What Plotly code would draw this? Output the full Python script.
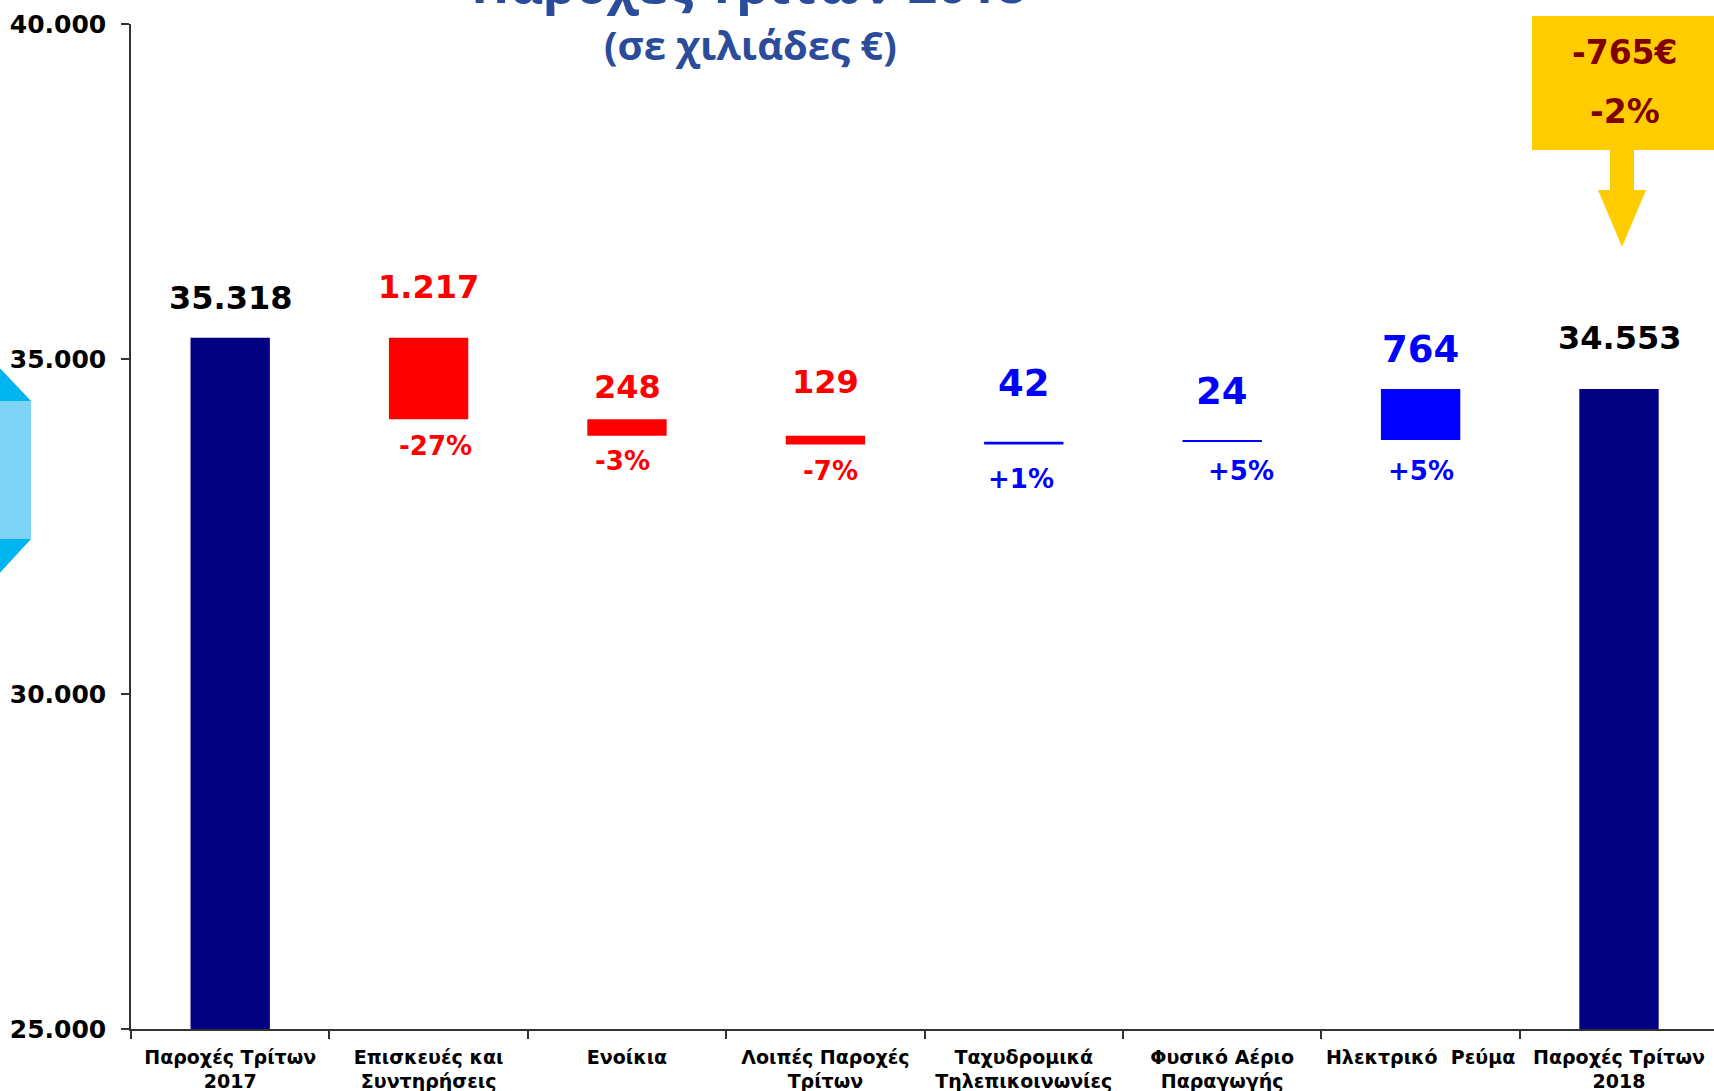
import plotly.graph_objects as go

# ---------------- data ----------------
categories = [
    "Παροχές Τρίτων<br>2017",
    "Επισκευές και<br>Συντηρήσεις",
    "Ενοίκια",
    "Λοιπές Παροχές<br>Τρίτων",
    "Ταχυδρομικά<br>Τηλεπικοινωνίες",
    "Φυσικό Αέριο<br>Παραγωγής",
    "Ηλεκτρικό  Ρεύμα",
    "Παροχές Τρίτων<br>2018",
]
values = [35318, -1217, -248, -129, 42, 24, 764, 34553]
measures = ["absolute", "relative", "relative", "relative",
            "relative", "relative", "relative", "absolute"]
pct_labels = ["-27%", "-3%", "-7%", "+1%", "+5%", "+5%"]
y_ticks = [25000, 30000, 35000, 40000]
title_lines = ["Παροχές Τρίτων 2018", "(σε χιλιάδες €)"]

# ---------------- style ----------------
NAVY, RED, BLUE = "#000080", "#FF0000", "#0000FF"
YELLOW, DARKRED = "#FFCC00", "#800000"
TITLE_BLUE = "#2B4C9A"
FONT = "DejaVu Sans"
W_FIG, H_FIG = 1714, 1091
L, T, R, B = 131, 24, 0, 62
PW, PH = W_FIG - L - R, H_FIG - T - B
top_label_shift = [40, 51, 32, 54, 58, 49, 39, 51]   # px above bar top
pct_label_shift = [27, 25, 27, 35, 29, 31]           # px below bar bottom
pct_label_dx = [7, -5, 5, -3, 19, 0]


def px_x(px):
    return (px - L) / PW


def px_y(py):
    return 1 - (py - T) / PH


def fmt(v):
    return f"{abs(v):,}".replace(",", ".")


# compute bar extents
tops, bottoms = [], []
running = 0
for v, m in zip(values, measures):
    if m == "absolute":
        running = v
        tops.append(v)
        bottoms.append(0)
    else:
        new = running + v
        tops.append(max(running, new))
        bottoms.append(min(running, new))
        running = new

fig = go.Figure()
fig.add_trace(go.Waterfall(
    x=categories,
    y=values,
    measure=measures,
    width=0.4,
    connector=dict(visible=False),
    increasing=dict(marker=dict(color=BLUE, line=dict(width=0))),
    decreasing=dict(marker=dict(color=RED, line=dict(width=0))),
    totals=dict(marker=dict(color=NAVY, line=dict(width=0))),
    hoverinfo="skip",
    showlegend=False,
))

annotations = []
# value labels above bars
for i, (cat, v, m) in enumerate(zip(categories, values, measures)):
    if m == "absolute":
        color, size = "black", 32
    elif v < 0:
        color, size = RED, 32
    else:
        color, size = BLUE, 37
    annotations.append(dict(
        x=cat, y=tops[i], xref="x", yref="y", text=fmt(v),
        showarrow=False, yanchor="middle", yshift=top_label_shift[i],
        font=dict(family=FONT, size=size, color=color, weight="bold"),
    ))
# percentage labels below change bars
for j, lab in enumerate(pct_labels):
    i = j + 1
    color = RED if values[i] < 0 else BLUE
    annotations.append(dict(
        x=categories[i], y=bottoms[i], xref="x", yref="y", text=lab,
        showarrow=False, yanchor="middle", yshift=-pct_label_shift[j],
        xshift=pct_label_dx[j],
        font=dict(family=FONT, size=26, color=color, weight="bold"),
    ))

# total change callout
change = values[-1] - values[0]
change_pct = round(change / values[0] * 100)
annotations.append(dict(
    x=px_x(1625), y=px_y(52), xref="paper", yref="paper",
    text=f"{change}€", showarrow=False, xanchor="center", yanchor="middle",
    font=dict(family=FONT, size=33, color=DARKRED, weight="bold"),
))
annotations.append(dict(
    x=px_x(1625), y=px_y(112), xref="paper", yref="paper",
    text=f"{change_pct}%", showarrow=False, xanchor="center", yanchor="middle",
    font=dict(family=FONT, size=33, color=DARKRED, weight="bold"),
))

# title (first line mostly cropped at the top, as in the original)
annotations.append(dict(
    x=px_x(748), y=px_y(-18), xref="paper", yref="paper",
    text=title_lines[0], showarrow=False, xanchor="center", yanchor="middle",
    font=dict(family="Open Sans", size=52, color=TITLE_BLUE, weight="bold"),
))
annotations.append(dict(
    x=px_x(750), y=px_y(45), xref="paper", yref="paper",
    text=title_lines[1], showarrow=False, xanchor="center", yanchor="middle",
    font=dict(family="Open Sans", size=40, color=TITLE_BLUE, weight="bold"),
))


def path(points):
    s = "M " + " L ".join(f"{px_x(x):.5f},{px_y(y):.5f}" for x, y in points)
    return s + " Z"


shapes = [
    # yellow callout box
    dict(type="path", xref="paper", yref="paper",
         path=path([(1532, 16), (1720, 16), (1720, 150), (1532, 150)]),
         fillcolor=YELLOW, line=dict(width=0), layer="above"),
    # arrow shaft + head
    dict(type="path", xref="paper", yref="paper",
         path=path([(1610, 148), (1634, 148), (1634, 190), (1646, 190),
                    (1622, 247), (1598, 190), (1610, 190)]),
         fillcolor=YELLOW, line=dict(width=0), layer="above"),
    # cyan decoration at left edge
    dict(type="path", xref="paper", yref="paper",
         path=path([(-2, 366), (31, 401), (31, 539), (-2, 575)]),
         fillcolor="#00B4F0", line=dict(width=0), layer="above"),
    dict(type="path", xref="paper", yref="paper",
         path=path([(-2, 401), (31, 401), (31, 539), (-2, 539)]),
         fillcolor="#7FD3F5", line=dict(width=0), layer="above"),
]

fig.update_layout(
    width=W_FIG, height=H_FIG,
    margin=dict(l=L, r=R, t=T, b=B, pad=0, autoexpand=False),
    paper_bgcolor="white", plot_bgcolor="white",
    separators=",.",
    annotations=annotations,
    shapes=shapes,
    showlegend=False,
)
fig.update_xaxes(
    type="category",
    range=[-0.5, -0.5 + PW / 198.4],
    showline=True, linecolor="#333333", linewidth=1.5,
    ticks="outside", tickson="boundaries", ticklen=8, tickwidth=1.5,
    tickcolor="#333333", showgrid=False, zeroline=False,
    tickangle=0, automargin=False,
    tickfont=dict(family=FONT, size=19, color="black", weight="bold"),
    ticklabelstandoff=10,
)
fig.update_yaxes(
    range=[y_ticks[0], y_ticks[-1]],
    tickvals=y_ticks, tickformat=",d",
    showline=True, linecolor="#333333", linewidth=1.5,
    ticks="outside", ticklen=8, tickwidth=1.5, tickcolor="#333333",
    showgrid=False, zeroline=False, automargin=False,
    tickfont=dict(family=FONT, size=25, color="black", weight="bold"),
    ticklabelstandoff=10,
)

fig.write_html(
    "out.html",
    config={"displayModeBar": False},
    post_script="document.body.style.margin='0';document.body.style.overflow='hidden';",
)
